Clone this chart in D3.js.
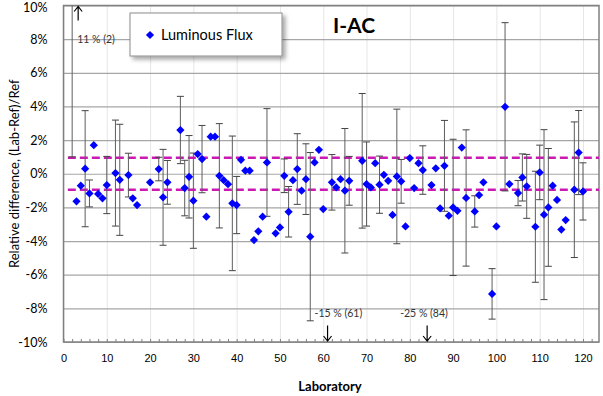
<!DOCTYPE html>
<html>
<head>
<meta charset="utf-8">
<script src="https://cdn.jsdelivr.net/npm/d3@7"></script>
<style>
  body { margin: 0; background: #fff; }
  .xlab text { font-family: "Liberation Sans", Arial, sans-serif; font-size: 11px; fill: #000; }
  .ylab text { font-family: Lato, "Open Sans", sans-serif; font-size: 12.5px; fill: #000; }
</style>
</head>
<body>
<div id="chart"></div>
<script>
// laboratory numbers, relative difference (%) and expanded uncertainty (%)
var labs = [3, 4, 5, 6, 7, 8, 9, 10, 12, 13, 15, 16, 17, 20, 22, 23, 24, 27, 28, 29,
            30, 31, 32, 33, 34, 35, 36, 37, 38, 39, 40, 41, 42, 43, 44, 45, 46, 47, 49, 50,
            51, 52, 53, 54, 55, 56, 57, 58, 59, 60, 62, 63, 64, 65, 66, 69, 70, 71, 72, 73,
            74, 75, 76, 77, 78, 79, 80, 81, 82, 83, 85, 86, 87, 88, 89, 90, 91, 92, 93, 95,
            96, 97, 99, 100, 102, 103, 105, 106, 107, 109, 110, 111, 112, 113, 114, 115, 116, 118, 119, 120];
var diffs = [-1.64, -0.71, 0.30, -1.17, 1.70, -1.20, -1.46, -0.67, 0.04, -0.36, -0.08, -1.46, -1.86, -0.51, 0.28, -1.40, -0.51, 2.60, -0.85, -0.18,
             -1.60, 1.17, 0.87, -2.55, 2.20, 2.20, -0.12, -0.38, -0.62, -1.76, -1.86, 0.83, 0.18, 0.18, -3.94, -3.42, -2.55, 0.67, -3.54, -3.19,
             -0.12, -2.26, -0.38, 0.28, -1.01, -0.32, -3.74, 0.67, 1.42, -2.10, -0.51, -0.81, -0.32, -1.01, -0.42, 0.77, -0.61, -0.81, 0.63, -0.65,
             -0.06, -0.42, -2.45, -0.16, -0.45, -3.13, 0.93, -0.85, 0.63, 0.22, -0.67, 0.32, -2.06, 0.47, -2.49, -2.00, -2.20, 1.56, -1.44, -2.24,
             -1.27, -0.51, -7.14, -3.13, 3.98, -0.61, -1.15, -0.22, -0.75, -3.15, 0.08, -2.43, -2.00, -0.71, -1.56, -3.32, -2.75, -0.95, 1.26, -1.05];
var uncs = [0, 0, 3.45, 0.8, 0, 0, 0, 1.7, 3.15, 3.3, 1.3, 0, 0, 0, 0.7, 2.85, 1.3, 2.0, 1.65, 2.45,
            2.83, 0, 2.0, 0, 0, 0, 3.1, 0, 0, 4.0, 1.7, 0, 0, 0, 0, 0, 0, 3.2, 0, 0,
            1.0, 1.5, 0, 2.1, 0, 2.1, 5.0, 0, 0, 0, 1.65, 0, 0, 3.7, 1.45, 4.0, 2.5, 0, 0, 1.7,
            0, 0, 0, 4.0, 1.3, 0, 0, 0, 0, 1.44, 0, 0, 0, 2.7, 0, 4.05, 0, 0, 4.05, 0.93,
            0, 0, 1.5, 0, 5.0, 0, 0.75, 1.4, 1.9, 3.3, 1.62, 5.05, 3.5, 0, 0, 0, 0, 4.03, 2.5, 1.7];

// results outside the plotted range
var outLabs = [2, 61, 84];
var outDiffs = [11, -15, -25];
var outUncs = [10, 0, 0];
var outText = ["11 % (2)", "-15 % (61)", "-25 % (84)"];

var limits = [0.95, -0.95];
var xTicks = d3.range(0, 121, 10);
var yTicks = d3.range(-10, 11, 2);

var W = 603, H = 396;
var margin = {top: 5.5, right: 4, bottom: 54, left: 63.5};
var width = W - margin.left - margin.right;
var height = H - margin.top - margin.bottom;

var svg = d3.select("#chart").append("svg")
            .attr("width", W)
            .attr("height", H);

var defs = svg.append("defs");
defs.append("clipPath").attr("id", "clip")
    .append("rect").attr("width", width).attr("height", height);
var sh = defs.append("filter").attr("id", "shadow")
             .attr("x", "-10%").attr("y", "-10%").attr("width", "130%").attr("height", "140%");
sh.append("feDropShadow").attr("dx", 3).attr("dy", 3).attr("stdDeviation", 2)
  .attr("flood-color", "#000").attr("flood-opacity", 0.35);

var g = svg.append("g")
           .attr("transform", "translate(" + margin.left + "," + margin.top + ")");

var x = d3.scaleLinear().domain([0, 123.7]).range([0, width]);
var y = d3.scaleLinear().domain([-10, 10]).range([height, 0]);

// faint vertical grid
g.append("g")
 .attr("transform", "translate(0," + height + ")")
 .call(d3.axisBottom(x).tickValues(xTicks).tickSize(-height).tickFormat(""))
 .call(s => s.select(".domain").remove())
 .selectAll("line").attr("stroke", "#e6e6e6");

// horizontal grid
g.append("g")
 .call(d3.axisLeft(y).tickValues(yTicks).tickSize(-width).tickFormat(""))
 .call(s => s.select(".domain").remove())
 .selectAll("line").attr("stroke", "#a6a6a6").attr("stroke-width", 1.2);

// minor ticks along the bottom, pointing inward
g.append("g")
 .attr("transform", "translate(0," + height + ")")
 .call(d3.axisBottom(x).tickValues(d3.range(0, 124, 2)).tickSize(-3).tickFormat(""))
 .call(s => s.select(".domain").remove())
 .selectAll("line").attr("stroke", "#808080");

// tick labels
g.append("g")
 .attr("class", "xlab")
 .attr("transform", "translate(0," + height + ")")
 .call(d3.axisBottom(x).tickValues(xTicks).tickSize(0).tickPadding(12))
 .call(s => s.select(".domain").remove());

g.append("g")
 .attr("class", "ylab")
 .call(d3.axisLeft(y).tickValues(yTicks).tickSize(0).tickPadding(16).tickFormat(d => d + "%"))
 .call(s => s.select(".domain").remove())
 .selectAll("text").filter(d => d == 10).attr("dy", "0.45em");

// plot frame
g.append("rect")
 .attr("width", width).attr("height", height)
 .attr("fill", "none").attr("stroke", "#808080").attr("stroke-width", 1.5);

var data = labs.map((l, i) => ({lab: l, v: diffs[i], u: uncs[i]}));
var outs = outLabs.map((l, i) => ({lab: l, v: outDiffs[i], u: outUncs[i], t: outText[i]}));

var plot = g.append("g").attr("clip-path", "url(#clip)");

// limit lines
plot.selectAll(".lim")
    .data(limits)
    .enter().append("line")
    .attr("x1", x(1)).attr("x2", width)
    .attr("y1", d => y(d)).attr("y2", d => y(d))
    .attr("stroke", "#cc19b3").attr("stroke-width", 2.4)
    .attr("stroke-dasharray", "8,4");

// error bars
var bars = data.filter(d => d.u > 0).concat(outs.filter(d => d.u > 0));
var eb = plot.selectAll(".eb")
             .data(bars)
             .enter().append("g");
eb.append("line")
  .attr("x1", d => x(d.lab)).attr("x2", d => x(d.lab))
  .attr("y1", d => y(d.v + d.u)).attr("y2", d => y(d.v - d.u))
  .attr("stroke", "#5e5e5e").attr("stroke-width", 1);
[1, -1].forEach(function(s) {
    eb.append("line")
      .attr("x1", d => x(d.lab) - 3.5).attr("x2", d => x(d.lab) + 3.5)
      .attr("y1", d => y(d.v + s * d.u)).attr("y2", d => y(d.v + s * d.u))
      .attr("stroke", "#444").attr("stroke-width", 1);
});

// diamonds
var diamond = d3.symbol().type(d3.symbolSquare).size(34);
plot.selectAll(".pt")
    .data(data)
    .enter().append("path")
    .attr("d", diamond)
    .attr("transform", d => "translate(" + x(d.lab) + "," + y(d.v) + ") rotate(45)")
    .attr("fill", "#0000ff");

// arrows + notes for off-scale labs
function arrow(px, y0, y1) {
    var dir = y1 > y0 ? 1 : -1;
    g.append("path")
     .attr("d", "M" + px + "," + y0 + "V" + y1 +
                "M" + (px - 4) + "," + (y1 - dir * 5) + "L" + px + "," + y1 + "L" + (px + 4) + "," + (y1 - dir * 5))
     .attr("fill", "none").attr("stroke", "#000").attr("stroke-width", 1.2);
}
outs.forEach(function(d) {
    var px = x(d.lab);
    if (d.v > 10) {
        arrow(px + 6, 15, 1);
        g.append("text").attr("x", px + 5).attr("y", 37)
         .attr("font-family", "Lato, sans-serif").attr("font-size", 10.5).attr("fill", "#333")
         .text(d.t);
    } else {
        arrow(px, 320, height - 1);
        g.append("text").attr("x", d.lab == 61 ? px - 13 : px - 27).attr("y", 311)
         .attr("font-family", "Lato, sans-serif").attr("font-size", 10.5).attr("fill", "#333")
         .text(d.t);
    }
});

// legend
var lg = svg.append("g").attr("transform", "translate(130,13)");
lg.append("rect").attr("width", 152).attr("height", 43)
  .attr("fill", "#fff").attr("stroke", "#8c8c8c").attr("filter", "url(#shadow)");
lg.append("path").attr("d", diamond)
  .attr("transform", "translate(20,22) rotate(45)").attr("fill", "#0000ff");
lg.append("text").attr("x", 31).attr("y", 27)
  .attr("font-family", "Lato, sans-serif").attr("font-size", 14.5)
  .text("Luminous Flux");

// title
svg.append("text").attr("x", 354).attr("y", 33).attr("text-anchor", "middle")
   .attr("font-family", "Lato, sans-serif").attr("font-weight", "bold").attr("font-size", 21)
   .text("I-AC");

// axis titles
svg.append("text")
   .attr("transform", "translate(19," + (margin.top + height / 2) + ") rotate(-90)")
   .attr("text-anchor", "middle")
   .attr("font-family", "Lato, sans-serif").attr("font-size", 13)
   .text("Relative difference, (Lab-Ref)/Ref");

svg.append("text").attr("x", 330).attr("y", 391).attr("text-anchor", "middle")
   .attr("font-family", "Lato, sans-serif").attr("font-weight", "bold").attr("font-size", 13)
   .text("Laboratory");
</script>
</body>
</html>
